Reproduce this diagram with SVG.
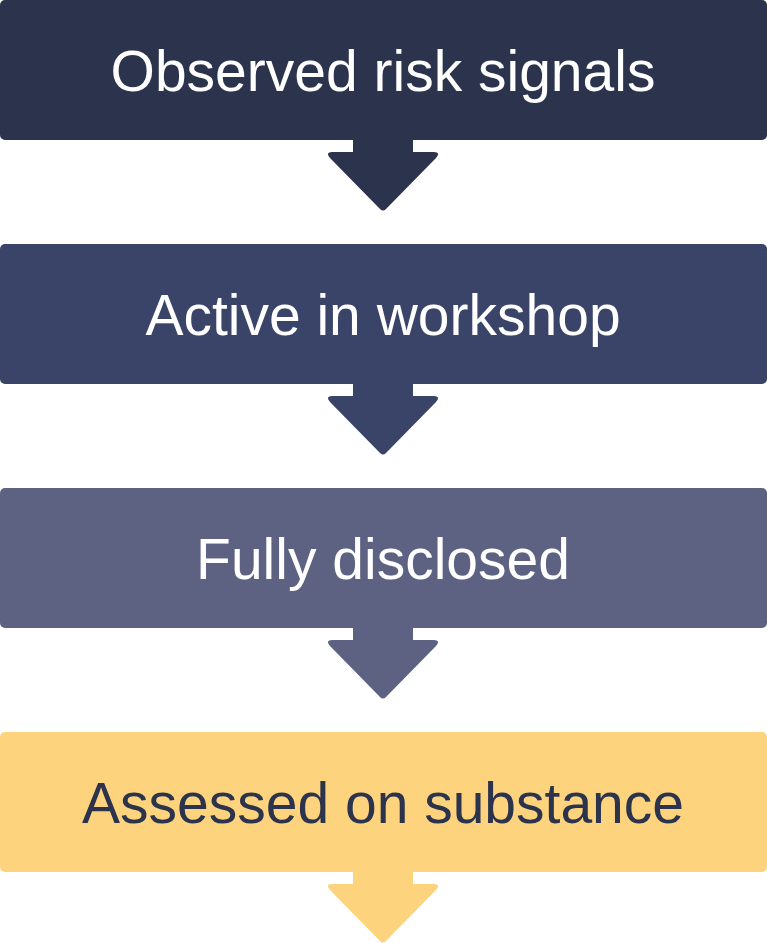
<svg xmlns="http://www.w3.org/2000/svg" width="767" height="943" viewBox="0 0 767 943">
<style>
text{font-family:"Liberation Sans",Arial,sans-serif;font-size:57px;text-anchor:middle}
.w{fill:#ffffff}.d{fill:#2b334d}
</style>
<defs>
<path id="arr" d="M353,0 H413 V12 H434 Q441,12 436,18 L386,69 Q383,72 380,69 L330,18 Q325,12 332,12 H353 Z"/>
</defs>
<g id="connectors">
<use href="#arr" y="140" fill="#2b334d"/>
<use href="#arr" y="384" fill="#3a4468"/>
<use href="#arr" y="628" fill="#5d6282"/>
<use href="#arr" y="872" fill="#fdd47d"/>
</g>
<g id="n1"><rect x="0" y="0" width="767" height="140" rx="5" fill="#2b334d"/><text class="w" x="383" y="91">Observed risk signals</text></g>
<g id="n2"><rect x="0" y="244" width="767" height="140" rx="5" fill="#3a4468"/><text class="w" x="383" y="335">Active in workshop</text></g>
<g id="n3"><rect x="0" y="488" width="767" height="140" rx="5" fill="#5d6282"/><text class="w" x="383" y="579">Fully disclosed</text></g>
<g id="n4"><rect x="0" y="732" width="767" height="140" rx="5" fill="#fdd47d"/><text class="d" x="383" y="823">Assessed on substance</text></g>
</svg>
